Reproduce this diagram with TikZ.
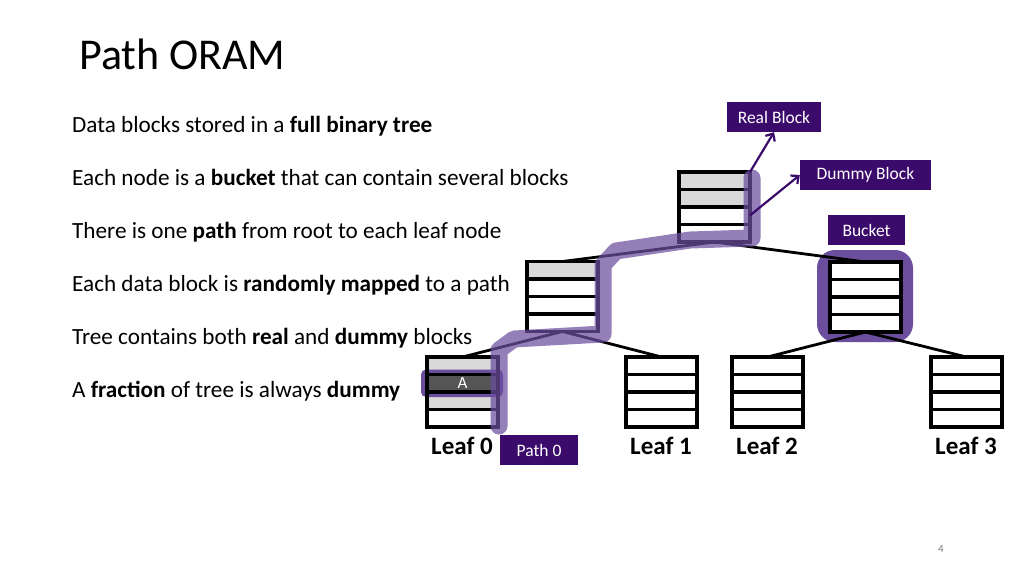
\documentclass[tikz,border=0pt]{standalone}
\usepackage{fontspec}
\setmainfont{Carlito}
\usetikzlibrary{arrows.meta,calc}
\definecolor{dpurple}{HTML}{3B0B6B}
\definecolor{hpurple}{HTML}{6B4E9E}
\definecolor{lgray}{HTML}{D9D9D9}
\definecolor{dgray}{HTML}{555555}
\tikzset{
 bucketbox/.style={draw=none, minimum width=71pt, minimum height=70pt, inner sep=0pt, outer sep=0pt},
 bline/.style={line width=3.2pt},
 edge/.style={line width=2.8pt},
 lbl/.style={fill=dpurple, text=white, font=\fontsize{17.5}{20}\selectfont, minimum height=30pt, inner sep=0pt},
 leaflbl/.style={anchor=base, font=\fontsize{25}{29}\selectfont\bfseries, inner sep=0pt},
 body/.style={anchor=base west, font=\fontsize{23.2}{27}\selectfont, inner sep=0pt},
 arr/.style={line width=2.2pt, draw=dpurple, -{Straight Barb[length=6pt,width=11pt]}},
 pathhl/.style={line width=17pt, draw=hpurple, opacity=0.72, line join=round, line cap=round},
}
\newcommand\bucketrows[1]{%
 \foreach \f in {0.25,0.5,0.75}{\draw[bline] ($(#1.north west)!\f!(#1.south west)$) -- ($(#1.north east)!\f!(#1.south east)$);}%
 \draw[bline] (#1.north west) rectangle (#1.south east);}
\newcommand\rowfill[4]{\fill[#4] ($(#1.north west)!#2!(#1.south west)$) rectangle ($(#1.north east)!#3!(#1.south east)$);}
\begin{document}
\begin{tikzpicture}[x=1pt,y=-1pt]
\useasboundingbox[fill=white] (0,0) rectangle (1024,576);
% title
\node[anchor=base west, font=\fontsize{44}{50}\selectfont, inner sep=0pt] (title) at (79,69) {Path ORAM};
% body text
\node[body] (t1) at (72,132) {Data blocks stored in a \textbf{full binary tree}};
\node[body] (t2) at (72,185) {Each node is a \textbf{bucket} that can contain several blocks};
\node[body] (t3) at (72,238) {There is one \textbf{path} from root to each leaf node};
\node[body] (t4) at (72,291) {Each data block is \textbf{randomly mapped} to a path};
\node[body] (t5) at (72,344) {Tree contains both \textbf{real} and \textbf{dummy} blocks};
\node[body] (t6) at (72,397) {A \textbf{fraction} of tree is always \textbf{dummy}};
% buckets
\node[bucketbox] (root) at (714.5,207) {};
\node[bucketbox] (l1) at (562.5,296.5) {};
\node[bucketbox] (r1) at (865.5,297) {};
\node[bucketbox] (leaf0) at (462.5,392) {};
\node[bucketbox] (leaf1) at (661.5,392) {};
\node[bucketbox] (leaf2) at (767.5,392) {};
\node[bucketbox] (leaf3) at (966.5,392) {};
% bucket highlight
\fill[hpurple, rounded corners=18pt] ($(r1.north west)+(-13,-12)$) rectangle ($(r1.south east)+(12,10)$);
\fill[white] (r1.north west) rectangle (r1.south east);
% edges
\draw[edge] (root.south) -- (l1.north);
\draw[edge] (root.south) -- (r1.north);
\draw[edge] (l1.south) -- (leaf0.north);
\draw[edge] (l1.south) -- (leaf1.north);
\draw[edge] (r1.south) -- (leaf2.north);
\draw[edge] (r1.south) -- (leaf3.north);
% fills
\rowfill{root}{0}{0.5}{lgray}
\rowfill{l1}{0}{0.25}{lgray}
\rowfill{leaf0}{0}{0.25}{lgray}
\rowfill{leaf0}{0.5}{0.75}{lgray}
% A highlight
\fill[hpurple, rounded corners=5pt] ($(leaf0.north west)!0.25!(leaf0.south west)+(-6,-5)$) rectangle ($(leaf0.north east)!0.5!(leaf0.south east)+(5,5)$);
\rowfill{leaf0}{0.25}{0.5}{dgray}
% bucket lines
\bucketrows{root}
\bucketrows{l1}
\bucketrows{r1}
\bucketrows{leaf0}
\bucketrows{leaf1}
\bucketrows{leaf2}
\bucketrows{leaf3}
\node[text=white, font=\fontsize{17}{19}\selectfont, inner sep=0pt] (A) at ($(leaf0.north)!0.375!(leaf0.south)$) {A};
% path highlight
\draw[pathhl] (499,426) -- (499,350) -- (514,339) -- (603,334) -- (603,265) -- (616,251) -- (690,240) -- (752,238) -- (752,178);
% labels
\node[lbl, minimum width=94pt] (real) at (774,117) {Real Block};
\node[lbl, minimum width=131pt] (dummy) at (865.5,175) {Dummy Block};
\node[lbl, minimum width=77pt] (bucket) at (866.5,230) {Bucket};
\node[lbl, minimum width=78pt] (path0) at (539,450) {Path 0};
\draw[arr] (root.north east) -- (real.south);
\draw[arr] ($(root.north east)!0.62!(root.south east)$) -- (dummy.west);
% leaf labels
\node[leaflbl] (lab0) at (462,454) {Leaf 0};
\node[leaflbl] (lab1) at (661,454) {Leaf 1};
\node[leaflbl] (lab2) at (767,454) {Leaf 2};
\node[leaflbl] (lab3) at (966,454) {Leaf 3};
% page number
\node[text=gray, font=\fontsize{11}{13}\selectfont, inner sep=0pt] (pg) at (941,549) {4};
\end{tikzpicture}
\end{document}
